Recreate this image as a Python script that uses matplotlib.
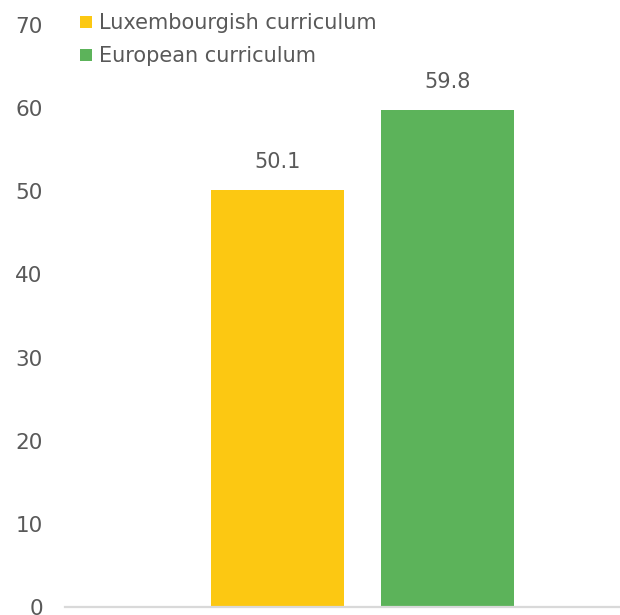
import matplotlib
matplotlib.use("Agg")
from matplotlib import pyplot as plt
from matplotlib.patches import Patch

# данные
categories = ["Luxembourgish curriculum", "European curriculum"]
values = [50.1, 59.8]
colors = ["#FCC812", "#5CB35A"]
yticks = [0, 10, 20, 30, 40, 50, 60, 70]

grey = "#595959"
plt.rcParams["font.family"] = ["DejaVu Sans"]

fig = plt.figure(figsize=(6.2, 6.15), dpi=100)
ax = fig.add_axes([65 / 620, 8 / 615, 555 / 620, 582 / 615])

x = list(range(len(values)))
bars = ax.bar(x, values, width=0.785, color=colors)

for xi, v in zip(x, values):
    ax.text(xi, v + 2.2, "%.1f" % v, ha="center", va="bottom",
            fontsize=15, color=grey)

ax.set_xlim(-1.254, 2.02)
ax.set_ylim(0, 70)
ax.set_yticks(yticks)
ax.set_yticklabels([str(t) for t in yticks], fontsize=15.5, color=grey)
ax.set_xticks([])
ax.tick_params(axis="y", length=0, pad=16)

for s in ["top", "right", "left"]:
    ax.spines[s].set_visible(False)
ax.spines["bottom"].set_color("#d9d9d9")
ax.spines["bottom"].set_linewidth(1.6)

handles = [Patch(facecolor=c, edgecolor="none") for c in colors]
leg = fig.legend(handles, categories, loc="upper left",
                 bbox_to_anchor=(72 / 620, 1 - 5 / 615), frameon=False,
                 fontsize=15, handlelength=0.55, handleheight=0.55,
                 handletextpad=0.35, labelspacing=0.62, borderaxespad=0)
for t in leg.get_texts():
    t.set_color(grey)

fig.savefig("out.png", dpi=100)
